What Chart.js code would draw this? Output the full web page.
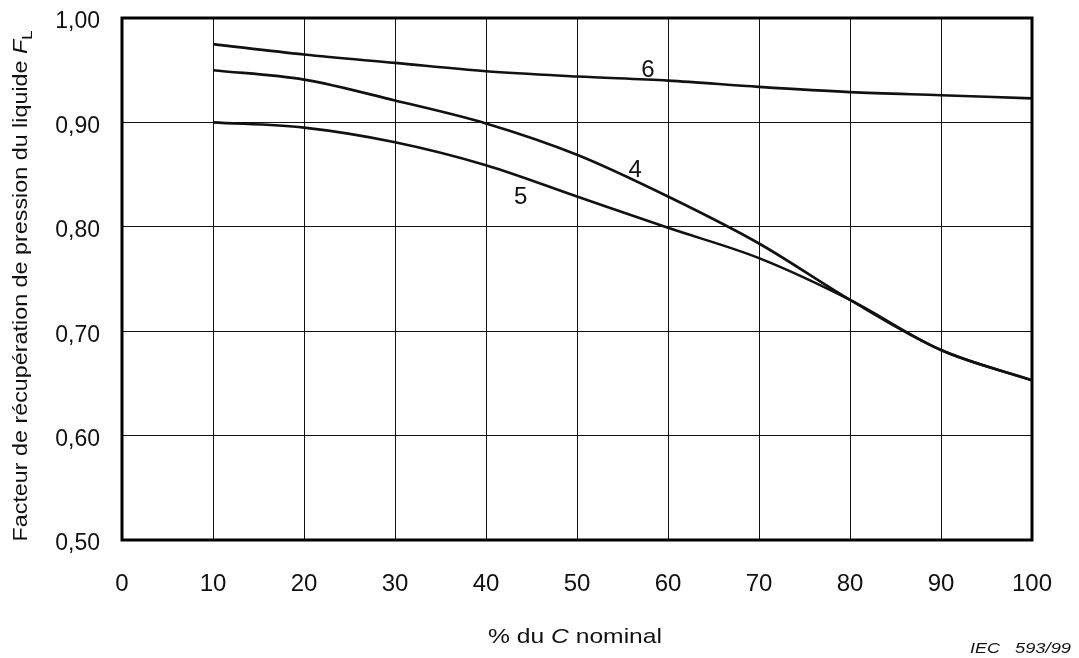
<!DOCTYPE html>
<html>
<head>
<meta charset="utf-8">
<script src="https://cdn.jsdelivr.net/npm/chart.js@4.4.1/dist/chart.umd.min.js"></script>
<style>
  html, body { margin: 0; padding: 0; background: #fff; }
  #wrap { width: 1079px; height: 658px; position: relative; }
</style>
</head>
<body>
<div id="wrap"><canvas id="grafica_fl"></canvas></div>
<script>
// % du C nominal
const pctC = [10, 20, 30, 40, 50, 60, 70, 80, 90, 100];
// courbes FL
const courbe4 = [0.950, 0.941, 0.921, 0.899, 0.869, 0.829, 0.784, 0.730, 0.682, 0.653];
const courbe5 = [0.900, 0.895, 0.881, 0.859, 0.829, 0.799, 0.770, 0.730, 0.682, 0.653];
const courbe6 = [0.975, 0.965, 0.957, 0.949, 0.944, 0.940, 0.934, 0.929, 0.926, 0.923];
// repères des courbes : [nom, x, y]
const reperes = [["6", 57.8, 0.950], ["4", 56.4, 0.854], ["5", 43.8, 0.828]];

const police = '"Liberation Sans", Arial, Helvetica, sans-serif';

function points(vals) {
  return pctC.map((x, i) => ({ x: x, y: vals[i] }));
}

function serie(vals) {
  return {
    data: points(vals),
    borderColor: '#111',
    borderWidth: 2.6,
    pointRadius: 0,
    fill: false,
    cubicInterpolationMode: 'monotone'
  };
}

// écrit une suite de morceaux [texte, police, décalage] étirée sur une longueur donnée
function texteMixte(ctx, morceaux, cx, cy, longueur) {
  const largeurs = morceaux.map(m => { ctx.font = m[1]; return ctx.measureText(m[0]).width; });
  const tot = largeurs.reduce((s, w) => s + w, 0);
  ctx.save();
  ctx.translate(cx, cy);
  ctx.scale(longueur / tot, 1);
  let x = -tot / 2;
  morceaux.forEach((m, i) => {
    ctx.font = m[1];
    ctx.fillText(m[0], x, m[2]);
    x += largeurs[i];
  });
  ctx.restore();
}

// cadre épais, numéros des courbes et titres d'axes
const decor = {
  id: 'decor',
  afterDatasetsDraw(chart) {
    const ctx = chart.ctx;
    const a = chart.chartArea;
    const sx = chart.scales.x, sy = chart.scales.y;
    ctx.save();
    ctx.strokeStyle = '#000';
    ctx.lineWidth = 3;
    ctx.strokeRect(a.left, a.top, a.right - a.left, a.bottom - a.top);

    ctx.fillStyle = '#111';
    ctx.font = '24px ' + police;
    ctx.textAlign = 'center';
    ctx.textBaseline = 'middle';
    reperes.forEach(r => {
      ctx.fillText(r[0], sx.getPixelForValue(r[1]), sy.getPixelForValue(r[2]));
    });

    ctx.textAlign = 'left';
    ctx.textBaseline = 'alphabetic';

    // titre X : % du C nominal
    texteMixte(ctx, [
      ['% du ', '21px ' + police, 0],
      ['C', 'italic 21px ' + police, 0],
      [' nominal', '21px ' + police, 0]
    ], 575, 643, 174);

    // titre Y : Facteur de récupération de pression du liquide FL
    ctx.save();
    ctx.translate(27, 286);
    ctx.rotate(-Math.PI / 2);
    texteMixte(ctx, [
      ['Facteur de récupération de pression du liquide ', '21px ' + police, 0],
      ['F', 'italic 21px ' + police, 0],
      ['L', '15px ' + police, 5]
    ], 0, 0, 511);
    ctx.restore();

    // référence de la figure
    texteMixte(ctx, [['IEC', 'italic 14px ' + police, 0]], 985, 653, 30);
    texteMixte(ctx, [['593/99', 'italic 14px ' + police, 0]], 1043, 653, 56);
    ctx.restore();
  }
};

new Chart(document.getElementById('grafica_fl').getContext('2d'), {
  type: 'line',
  data: {
    datasets: [serie(courbe6), serie(courbe4), serie(courbe5)]
  },
  options: {
    responsive: true,
    maintainAspectRatio: false,
    animation: false,
    layout: { padding: { top: 18, right: 47, left: 0, bottom: 0 } },
    plugins: {
      legend: { display: false },
      tooltip: { enabled: false }
    },
    scales: {
      x: {
        type: 'linear',
        min: 0,
        max: 100,
        ticks: {
          stepSize: 10,
          color: '#111',
          padding: 30,
          font: { family: police, size: 24 }
        },
        grid: { color: '#111', lineWidth: 1, drawTicks: false },
        border: { display: false },
        afterFit(scale) {
          scale.height = 118;
          scale.paddingLeft = 0;
          scale.paddingRight = 0;
        }
      },
      y: {
        min: 0.5,
        max: 1.0,
        ticks: {
          stepSize: 0.1,
          color: '#111',
          padding: 22,
          labelOffset: 4,
          font: { family: police, size: 23 },
          callback: v => v.toFixed(2).replace('.', ',')
        },
        grid: { color: '#111', lineWidth: 1, drawTicks: false },
        border: { display: false },
        afterFit(scale) {
          scale.width = 122;
          scale.paddingTop = 0;
          scale.paddingBottom = 0;
        }
      }
    }
  },
  plugins: [decor]
});
</script>
</body>
</html>
